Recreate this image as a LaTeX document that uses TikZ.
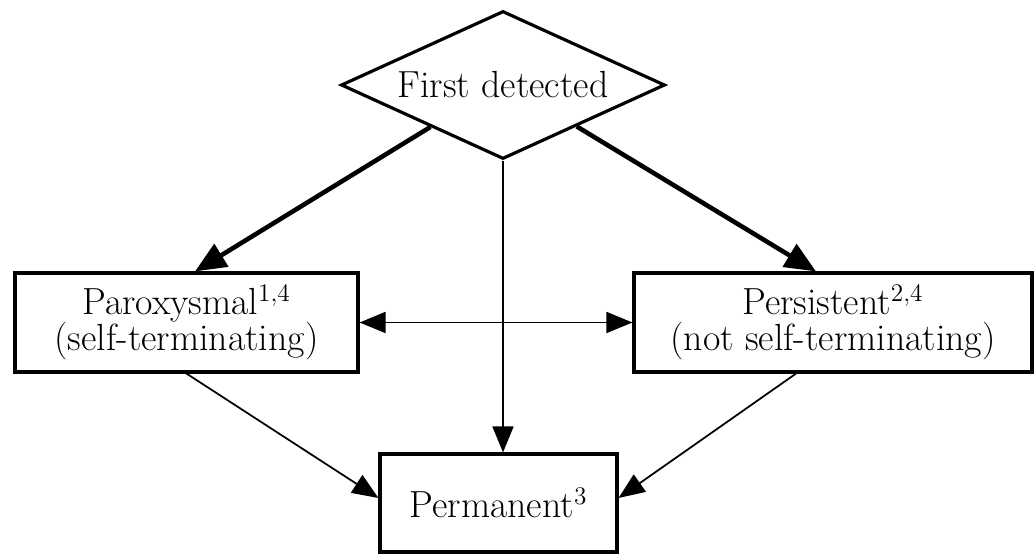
\documentclass[tikz,border=0pt]{standalone}
\usepackage{tikz}
\usetikzlibrary{arrows.meta,shapes.geometric,calc}
\begin{document}
\begin{tikzpicture}[>={Triangle[length=5.2mm,width=4.2mm]}, every node/.style={font=\fontsize{21.5}{20.5}\selectfont}]
\tikzstyle{b}=[draw, line width=1.8pt, align=center, inner sep=0pt, minimum height=1.98cm]
\tikzstyle{thinarr}=[->, line width=1pt]
\tikzstyle{thickarr}=[-{Triangle[length=6.2mm,width=5.2mm]}, line width=2.6pt]
\useasboundingbox (0,0) rectangle (20.72,11.08);
\node[draw, diamond, line width=1.8pt, aspect=2.2, inner sep=0pt, minimum width=6.48cm, minimum height=2.96cm] (fd) at (10.06,9.38) {First detected};
\node[b, minimum width=6.86cm] (parox) at (3.73,4.63) {Paroxysmal$^{1,4}$\\(self-terminating)};
\node[b, minimum width=7.96cm] (persist) at (16.66,4.63) {Persistent$^{2,4}$\\(not self-terminating)};
\node[b, minimum width=4.74cm, minimum height=1.96cm] (perm) at (9.97,1.02) {Permanent$^3$};
% from the first detection
\draw[thickarr] ($(fd.west)!0.556!(fd.south)$) -- ([xshift=0.17cm]parox.north);
\draw[thickarr] ($(fd.east)!0.549!(fd.south)$) -- ([xshift=-0.34cm]persist.north);
\draw[thinarr] (fd.south) -- (fd.south |- perm.north);
% between the types
\draw[thinarr, <->] (parox.east) -- (persist.west);
\draw[thinarr] (parox.south) -- ([yshift=0.1cm]perm.west);
\draw[thinarr] ([xshift=-0.74cm]persist.south) -- ([yshift=0.1cm]perm.east);
\end{tikzpicture}
\end{document}
